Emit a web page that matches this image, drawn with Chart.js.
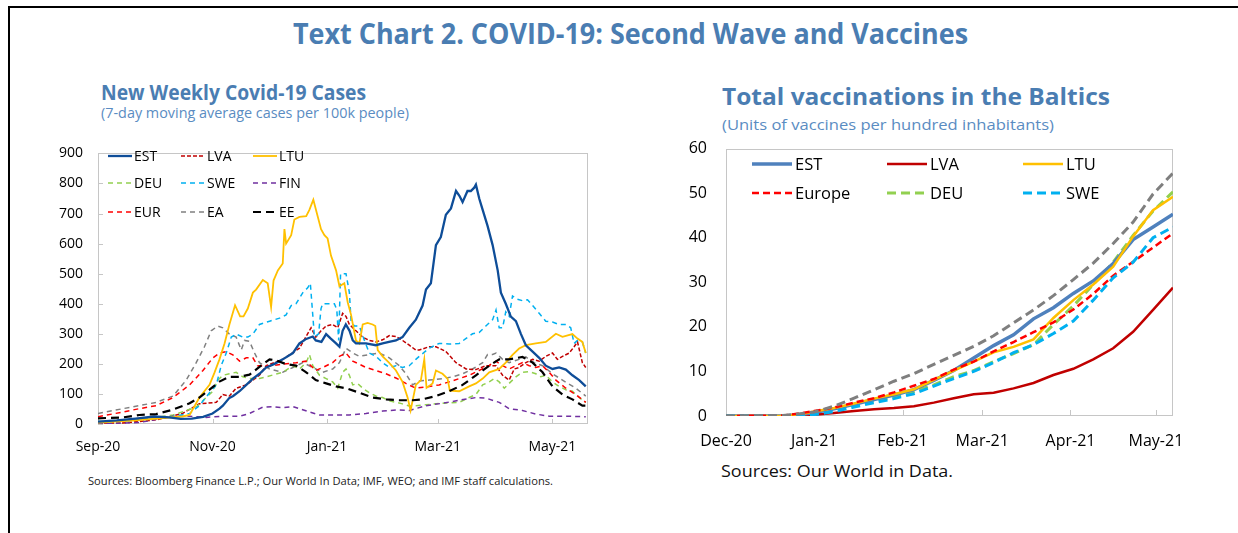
<!DOCTYPE html>
<html><head><meta charset="utf-8">
<script src="https://cdn.jsdelivr.net/npm/chart.js@4.4.1/dist/chart.umd.min.js"></script>
<style>
html,body{margin:0;padding:0;background:#fff;}
body{width:1238px;height:533px;position:relative;overflow:hidden;font-family:'Open Sans',sans-serif;}
.frame{position:absolute;left:8px;top:6px;width:1260px;height:560px;border-top:2px solid #000;border-left:2px solid #000;}
.t{position:absolute;white-space:nowrap;transform-origin:0 0;line-height:1;}
#main{left:293px;top:19px;font-size:28px;font-weight:700;color:#4a7db2;}
#lt{left:101px;top:82px;font-size:21px;font-weight:700;color:#4a7db2;}
#ls{left:101px;top:105px;font-size:15px;color:#5a8cc2;}
#rt{left:722px;top:86px;font-size:22.5px;font-weight:700;color:#4a7db2;}
#rs{left:722px;top:117px;font-size:15px;color:#5a8cc2;}
#lsrc{left:88px;top:476px;font-size:10.5px;color:#222;}
#rsrc{left:721px;top:463px;font-size:16px;color:#111;}
canvas{position:absolute;}
#c1{left:0;top:130px;}
#c2{left:630px;top:120px;}
</style></head>
<body>
<div class="frame"></div>
<div class="t" id="main" data-w="675">Text Chart 2. COVID-19: Second Wave and Vaccines</div>
<div class="t" id="lt" data-w="265">New Weekly Covid-19 Cases</div>
<div class="t" id="ls" data-w="308">(7-day moving average cases per 100k people)</div>
<div class="t" id="rt" data-w="388">Total vaccinations in the Baltics</div>
<div class="t" id="rs" data-w="332">(Units of vaccines per hundred inhabitants)</div>
<div class="t" id="lsrc" data-w="465">Sources: Bloomberg Finance L.P.; Our World In Data; IMF, WEO; and IMF staff calculations.</div>
<div class="t" id="rsrc" data-w="232">Sources: Our World in Data.</div>
<canvas id="c1" width="600" height="330"></canvas>
<canvas id="c2" width="570" height="340"></canvas>
<script>
// ---------- Left chart: new weekly cases (x = days since 1 Sep 2020) ----------
const caseTickDays = [0, 61, 122, 181, 242];
const caseTickLabels = ['Sep-20', 'Nov-20', 'Jan-21', 'Mar-21', 'May-21'];

const estDays = [0,10,20,30,38,44,50,56,61,64.7,66.5,70,72,75.4,79,82.5,86,89.6,94,98.4,103.8,107.3,110.9,114.4,116,119,121.5,124,126.8,128.6,130.3,132,134,135.7,137.4,142.7,148,151.6,155,158.7,162.2,165.8,169.3,172.9,174.7,177.3,180,182.6,185.3,188,190.7,192.5,194.2,196.8,198.6,200.4,201.3,203.1,204.9,207.5,210.2,212.9,214.6,217.2,219.9,222.6,225.3,227.9,231.5,235,238.5,242.1,245.6,249.2,252.7,256.3,259.8];
const estCases = [8,12,18,25,22,17,18,24,35,51,61,87,93,109,130,151,167,188,200,215,236,268,283,291,278,273,299,284,268,257,310,331,310,278,268,268,262,268,273,278,289,320,347,394,447,468,595,622,696,717,775,759,738,775,775,786,796,749,712,659,595,511,437,400,357,342,299,262,241,220,194,183,188,181,162,146,125];

const lvaDays = [0,13,31,45,54,63,66.5,70,73.6,79,82.5,86,89.6,98.4,107.3,113.5,116,118.8,121.5,125,127.7,130.3,132.1,133.9,137.4,141,144.5,148,151.6,155.2,158.7,162.2,165.8,169.3,171.1,176.4,180,185.3,190.7,196,201.3,206.6,212,215.5,219,221.7,224.3,227.9,231.5,235,238.5,242.1,244.7,247.4,251,253.6,255.4,258,259.8];
const lvaCases = [3,3,14,35,67,72,98,93,119,130,146,162,194,215,252,320,289,310,326,331,320,368,358,331,310,289,278,273,280,294,291,278,262,246,246,257,257,241,204,183,181,194,194,162,146,183,188,204,215,209,225,236,215,225,236,257,273,204,188];

const ltuDays = [0,20,35,45,48.8,54,59.4,62,64.7,67.4,70,73,75.7,77.5,79.8,82.5,84.2,87.8,90.4,92.2,93.5,95.8,98.4,99.3,100.2,102.9,104.6,107.3,110.9,112.6,114.7,117,118.8,120.6,122.3,124.1,126.8,128.6,131.2,133,134.8,137.4,139.2,141,143.6,146.3,147.7,149,151.6,155,158.7,162.2,164.9,166.5,169.3,172,173.8,175,178.2,180,183.5,186.2,187.4,192.4,197.7,201.3,204.9,208.4,213.7,217.2,220.8,224.3,227.9,233.2,238.5,243.9,247.4,252.7,255.4,258,259.8];
const ltuCases = [5,12,20,25,30,88,130,170,215,268,331,395,358,358,384,437,447,479,468,389,477,511,534,648,600,628,680,689,691,712,746,691,648,628,617,560,511,458,468,405,363,278,268,331,336,331,326,246,225,204,178,140,88,45,130,146,215,120,135,178,167,151,111,109,125,135,151,172,183,204,230,251,262,268,273,300,290,299,284,273,236];

const deuDays = [0,22,40,52.3,57.6,61.2,63.8,66.5,70,73.6,77.2,80.7,86,89.6,98.4,103.8,107.3,110.9,112.6,114.4,118,121.5,125,127.7,130.3,132.1,133.9,135.7,138.3,141,144.5,148,151.6,155.2,158.7,162.2,165.8,169.3,174.7,183.5,192.4,197.7,201.3,204.9,208.4,211.1,213.7,216.4,219,222.6,226.1,229.7,233.2,235.9,238.5,242.1,245.6,249.2,252.7,256.3,259.8];
const deuCases = [8,14,30,56,88,109,146,162,167,172,157,151,151,157,172,194,183,204,231,194,162,151,140,119,172,183,162,130,135,119,104,93,88,77,72,67,60,61,64,69,72,88,98,130,140,151,140,119,135,157,172,174,167,157,162,140,125,114,109,88,72];

const sweDays = [0,15,30,40,48.8,54,59.4,63,65.6,68.3,71,73.6,77.2,79.8,82.5,86,91.4,96.7,100.2,102.9,105.5,109.1,111.7,113.1,115.3,117.5,118.8,119.7,125.9,127.2,128.2,129.2,132.1,133.9,134.8,136.5,139.2,141.9,144.5,148.1,151.6,155.2,158.7,162.2,165.8,169.3,171.1,176.4,181.7,187,192.4,195.9,199.5,203,206.6,210.2,212,213.7,215.5,217.2,219,220.8,223.4,226.1,228.8,231.5,235,238.5,242.1,245.6,249.2,251.8,253.6,255.4,258,259.8];
const sweCases = [5,10,18,25,35,61,104,130,194,236,289,299,289,289,299,331,342,352,363,394,400,437,453,468,289,300,384,400,400,380,278,500,500,437,342,326,326,278,236,225,204,188,194,188,194,215,225,252,268,266,268,284,300,304,326,347,379,320,320,373,358,426,415,410,413,394,368,342,339,331,331,320,268,278,273,236];

const finDays = [0,22,40,48.8,57.6,66.5,75.4,80.7,87.8,93,98.4,103.8,107.3,112.6,118,125,133.9,142.7,151.6,160.5,165.8,174.7,183.5,192.4,201.3,206.6,213.7,219,226.1,233.2,240.3,249.2,259.8];
const finCases = [1,5,26,26,22,26,26,35,56,58,54,58,51,40,30,30,30,35,43,47,45,61,69,79,88,86,72,51,45,33,26,26,24];

const eurDays = [0,13.3,22,31,40,48.8,55.9,61.2,64.7,68.3,71.8,75.4,79,82.5,85,87.8,93,98.4,105.5,110.9,116,119.7,125,128.6,132.1,135.7,139.2,142.7,148,153.4,158.7,164,169.3,176.4,181.7,187,192.4,197.7,203,208.4,212,215.5,219,222.6,226.1,229.7,233.2,236.8,240.3,243.9,249.2,254.5,259.8];
const eurCases = [24,40,51,61,88,130,178,220,236,241,230,209,220,220,194,194,194,199,204,209,178,188,204,225,236,209,199,188,178,167,153,135,119,125,130,140,151,162,178,195,209,194,183,194,204,194,188,194,172,146,119,98,72];

const eaDays = [0,13.3,22,31,40,47,52.3,56.7,60.3,63.8,66.5,70,73.6,76.3,78.1,80.7,83.4,86,91.4,98.4,103.8,109.1,114.4,119.7,125,128.6,132.1,135.7,139.2,144.5,149.9,155.2,160.5,164,167.6,171.1,176.4,183.5,188.9,194.2,199.5,204.9,207.5,210.2,212,215.5,219,224.3,227.9,232.3,236.8,242.1,247.4,254.5,259.8];
const eaCases = [35,51,61,72,93,146,204,257,310,326,320,299,289,246,278,275,236,204,183,172,188,204,188,172,183,204,252,236,225,231,236,220,194,167,130,143,146,151,157,167,183,204,231,231,236,215,204,215,223,204,194,167,146,119,93];

const eeDays = [0,13.3,22,31,40,48.8,54,59.4,64.7,70,75.4,80.7,86,91.4,94.9,100.2,105.5,110.9,116,121.5,126.8,132.1,139.2,146.3,153.4,160.5,167.6,172.9,180,187,194.2,201.3,208.4,213.7,219,226.1,231.5,236.8,242.1,247.4,252.7,258,259.8];
const eeCases = [19,22,30,33,48,69,88,114,141,157,157,164,190,215,212,199,194,172,146,135,125,119,104,88,82,79,79,82,93,109,130,162,194,215,215,223,204,172,125,98,82,61,61];

// ---------- Right chart: total vaccinations (x = days since 1 Dec 2020) ----------
const vaxTickDays = [0, 31, 62, 90, 121, 151];
const vaxTickLabels = ['Dec-20', 'Jan-21', 'Feb-21', 'Mar-21', 'Apr-21', 'May-21'];
const vaxDays   = [0, 20, 26, 31, 38, 45, 52, 59, 66, 73, 80, 87, 94, 101, 108, 115, 122, 129, 136, 143, 150, 157];
const vaxEST    = [0, 0, 0.3, 0.8, 1.6, 2.6, 3.7, 4.7, 5.9, 8.0, 10.2, 13.0, 15.8, 18.2, 21.8, 24.3, 27.5, 30.3, 34.2, 39.6, 42.4, 45.3];
const vaxLVA    = [0, 0, 0.1, 0.3, 0.7, 1.1, 1.5, 1.8, 2.2, 3.0, 4.0, 4.9, 5.2, 6.2, 7.4, 9.2, 10.6, 12.7, 15.2, 18.9, 23.8, 28.8];
const vaxLTU    = [0, 0, 0.4, 1.0, 1.8, 2.8, 3.9, 4.9, 6.0, 8.1, 10.2, 12.2, 14.3, 15.5, 17.2, 22.0, 26.0, 29.5, 33.5, 40.3, 46.2, 49.2];
const vaxEurope = [0, 0.1, 0.6, 1.1, 1.9, 3.0, 4.0, 5.3, 6.8, 8.3, 10.4, 12.2, 14.5, 16.6, 18.8, 21.0, 23.9, 27.4, 31.5, 34.6, 37.8, 41.0];
const vaxDEU    = [0, 0, 0.3, 0.8, 1.5, 2.5, 3.4, 4.3, 5.5, 7.0, 8.8, 10.2, 12.2, 14.0, 16.0, 20.5, 24.7, 29.5, 34.5, 40.5, 46.0, 50.3];
const vaxSWE    = [0, 0, 0.1, 0.3, 1.0, 2.0, 3.0, 3.9, 5.0, 6.7, 8.4, 10.0, 12.0, 14.2, 16.0, 18.5, 21.3, 26.0, 31.0, 34.5, 40.0, 42.4];
const vaxGray   = [0, 0.1, 0.5, 0.9, 2.2, 4.0, 5.9, 7.8, 9.5, 11.6, 13.6, 15.6, 18.0, 20.9, 23.8, 27.0, 30.6, 34.3, 38.7, 43.5, 49.8, 54.5];

// ---------- helpers ----------
function xy(days, vals) { return days.map((d, i) => ({ x: d, y: vals[i] })); }
Chart.defaults.font.family = "'Open Sans', sans-serif";
Chart.defaults.color = '#000';

const frameTicks = {
  id: 'frameTicks',
  beforeDatasetsDraw(chart, args, o) {
    const { ctx, chartArea: a, scales } = chart;
    ctx.save();
    ctx.strokeStyle = o.color; ctx.lineWidth = 1;
    ctx.strokeRect(Math.round(a.left) + 0.5, Math.round(a.top) + 0.5, Math.round(a.width) - 1, Math.round(a.height) - 1);
    ctx.beginPath();
    scales.x.ticks.forEach(t => {
      const px = Math.round(scales.x.getPixelForValue(t.value)) + 0.5;
      ctx.moveTo(px, a.bottom); ctx.lineTo(px, a.bottom - o.len);
    });
    if (o.yTicks) scales.y.ticks.forEach(t => {
      const py = Math.round(scales.y.getPixelForValue(t.value)) + 0.5;
      ctx.moveTo(a.left, py); ctx.lineTo(a.left + o.len, py);
    });
    ctx.stroke();
    ctx.restore();
  }
};
const customLegend = {
  id: 'customLegend',
  afterDatasetsDraw(chart, args, o) {
    const ctx = chart.ctx;
    ctx.save();
    o.items.forEach(it => {
      const ds = chart.data.datasets[it.i];
      ctx.beginPath();
      ctx.setLineDash(ds.borderDash || []);
      ctx.lineWidth = ds.borderWidth; ctx.strokeStyle = ds.borderColor;
      ctx.moveTo(it.x, it.y); ctx.lineTo(it.x + o.len, it.y); ctx.stroke();
      ctx.setLineDash([]);
      ctx.fillStyle = '#000'; ctx.font = o.font; ctx.textBaseline = 'middle'; ctx.textAlign = 'left';
      ctx.fillText(ds.label, it.x + o.len + o.gap, it.y + 1);
    });
    ctx.restore();
  }
};

function line(label, data, color, width, dash, order) {
  return { label, data, borderColor: color, backgroundColor: color, borderWidth: width, borderDash: dash,
           pointRadius: 0, tension: 0, fill: false, order };
}

// ---------- left chart ----------
new Chart(document.getElementById('c1'), {
  type: 'line',
  data: { datasets: [
    line('EST', xy(estDays, estCases), '#0e4d98', 2.3, [], 3),
    line('LVA', xy(lvaDays, lvaCases), '#c00000', 1.5, [4, 2], 9),
    line('LTU', xy(ltuDays, ltuCases), '#ffc000', 1.8, [], 4),
    line('DEU', xy(deuDays, deuCases), '#92d050', 1.5, [5, 4], 8),
    line('SWE', xy(sweDays, sweCases), '#00b0f0', 1.5, [5, 4], 5),
    line('FIN', xy(finDays, finCases), '#7030a0', 1.5, [5, 4], 7),
    line('EUR', xy(eurDays, eurCases), '#ff0000', 1.5, [5, 4], 6),
    line('EA',  xy(eaDays, eaCases),   '#808080', 1.5, [5, 4], 10),
    line('EE',  xy(eeDays, eeCases),   '#000000', 2.2, [8, 5], 2)
  ]},
  options: {
    responsive: false, animation: false, events: [],
    layout: { padding: { top: 11, right: 12, left: 0, bottom: 0 } },
    plugins: {
      legend: { display: false }, tooltip: { enabled: false },
      frameTicks: { color: '#c6c6c6', len: 5, yTicks: true },
      customLegend: { len: 24, gap: 2, font: "14px 'Open Sans', sans-serif", items: [
        { i: 0, x: 108, y: 26 }, { i: 1, x: 181, y: 26 }, { i: 2, x: 253, y: 26 },
        { i: 3, x: 108, y: 53 }, { i: 4, x: 181, y: 53 }, { i: 5, x: 253, y: 53 },
        { i: 6, x: 108, y: 82 }, { i: 7, x: 181, y: 82 }, { i: 8, x: 253, y: 82 } ] }
    },
    scales: {
      x: { type: 'linear', min: 0, max: 261,
        afterBuildTicks: s => { s.ticks = caseTickDays.map(v => ({ value: v })); },
        afterFit: s => { s.height = 36; },
        grid: { display: false, drawTicks: false }, border: { display: false },
        ticks: { autoSkip: false, maxRotation: 0, padding: 15, font: { size: 14 },
          callback: v => caseTickLabels[caseTickDays.indexOf(v)] } },
      y: { min: 0, max: 900,
        afterFit: s => { s.width = 98; },
        grid: { display: false, drawTicks: false }, border: { display: false },
        ticks: { stepSize: 100, padding: 15, font: { size: 14 } } }
    }
  },
  plugins: [frameTicks, customLegend]
});

// ---------- right chart ----------
new Chart(document.getElementById('c2'), {
  type: 'line',
  data: { datasets: [
    line('EST', xy(vaxDays, vaxEST), '#4f81bd', 3.5, [], 4),
    line('LVA', xy(vaxDays, vaxLVA), '#c00000', 2.5, [], 6),
    line('LTU', xy(vaxDays, vaxLTU), '#ffc000', 2.5, [], 3),
    line('Europe', xy(vaxDays, vaxEurope), '#ff0000', 2.5, [7, 4], 2),
    line('DEU', xy(vaxDays, vaxDEU), '#92d050', 3, [9, 5], 5),
    line('SWE', xy(vaxDays, vaxSWE), '#00b0f0', 3, [9, 5], 1),
    line('', xy(vaxDays, vaxGray), '#7f7f7f', 3, [9, 5], 0)
  ]},
  options: {
    responsive: false, animation: false, events: [],
    layout: { padding: { top: 17, right: 19, left: 0, bottom: 0 } },
    plugins: {
      legend: { display: false }, tooltip: { enabled: false },
      frameTicks: { color: '#c6c6c6', len: 6, yTicks: false },
      customLegend: { len: 40, gap: 3, font: "16.5px 'Open Sans', sans-serif", items: [
        { i: 0, x: 122, y: 44 }, { i: 1, x: 257, y: 44 }, { i: 2, x: 393, y: 44 },
        { i: 3, x: 122, y: 73 }, { i: 4, x: 257, y: 73 }, { i: 5, x: 393, y: 73 } ] }
    },
    scales: {
      x: { type: 'linear', min: 0, max: 157,
        afterBuildTicks: s => { s.ticks = vaxTickDays.map(v => ({ value: v })); },
        afterFit: s => { s.height = 44; },
        grid: { display: false, drawTicks: false }, border: { display: false },
        ticks: { autoSkip: false, maxRotation: 0, padding: 16, font: { size: 16 },
          callback: v => vaxTickLabels[vaxTickDays.indexOf(v)] } },
      y: { min: 0, max: 60,
        afterFit: s => { s.width = 96; },
        grid: { display: false, drawTicks: false }, border: { display: false },
        ticks: { stepSize: 10, padding: 19, font: { size: 16 } } }
    }
  },
  plugins: [frameTicks, customLegend]
});

// fit header/source texts to their measured widths in the reference
document.querySelectorAll('.t[data-w]').forEach(el => {
  const w = el.getBoundingClientRect().width;
  const target = parseFloat(el.dataset.w);
  if (w > 0) el.style.transform = 'scaleX(' + (target / w).toFixed(4) + ')';
});
</script>
</body></html>
